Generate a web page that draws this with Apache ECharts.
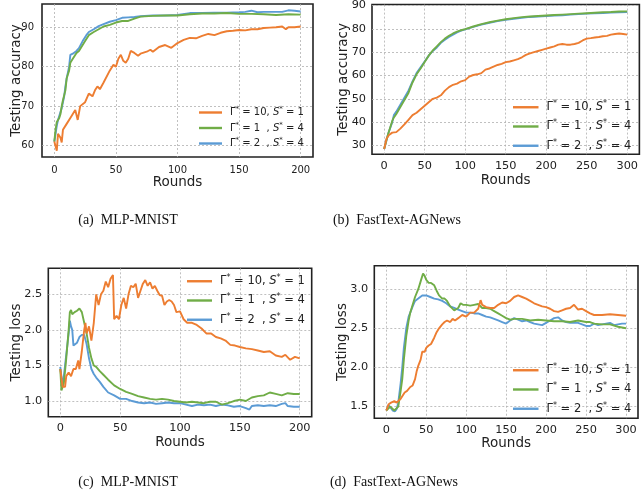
<!DOCTYPE html>
<html><head><meta charset="utf-8">
<script src="https://cdn.jsdelivr.net/npm/echarts@6/dist/echarts.min.js"></script>
<style>html,body{margin:0;padding:0;background:#fff}#c{width:641px;height:500px}</style>
</head><body><div id="c"></div>
<script>
// ---------- data (round, value) ----------
const mnistAccG10S1 = [[0,61],[2,58.7],[3,63],[5,62],[6,60.8],[7,64],[10,65.5],[13,67],[15,68],[17,69],[19,66.5],[21,70],[25,71],[28,73.2],[31,72.5],[33,74],[35,75],[37,74.3],[40,76],[45,79],[48,80.5],[50,80],[52,82],[54,83],[56,81.5],[58,81],[60,82],[62,84],[65,83.5],[68,82.8],[70,83.3],[75,83.8],[78,84.3],[80,83.8],[85,85],[90,85.5],[95,84.8],[100,86],[105,86.8],[110,87.3],[115,87.2],[120,87.8],[125,88.3],[130,88],[135,88.6],[140,89],[145,89.1],[150,89.3],[155,89.2],[160,89.5],[165,89.5],[170,89.8],[175,89.9],[180,90],[185,90.2],[188,89.5],[190,90],[195,90],[200,90.2]];
const mnistAccG1S4 = [[0,61],[1,64],[2,66],[3,65.5],[4,67],[5,68],[6,70],[7,71.5],[8,72],[9,74],[10,77],[11,78],[12,79],[13,81],[15,82],[18,83.5],[20,84],[23,85.5],[25,86.5],[28,88],[32,88.8],[36,89.5],[40,90.2],[45,90.6],[50,91.2],[55,91.6],[60,91.6],[65,92.2],[70,92.7],[80,92.9],[90,93],[100,93],[110,93.3],[120,93.5],[130,93.5],[140,93.6],[150,93.4],[160,93.4],[170,93.3],[180,93.1],[190,93.3],[200,93.2]];
const mnistAccG2S4 = [[0,61],[1,63],[2,65],[3,66.5],[4,67.5],[5,68],[6,69.5],[7,71],[8,72.5],[9,75],[10,77],[11,78.5],[12,80],[13,83],[15,83.3],[18,84],[20,84.7],[23,86.5],[26,88],[28,88.8],[32,89.5],[36,90.3],[40,90.8],[45,91.4],[50,91.8],[55,92.4],[60,92.5],[65,92.6],[70,92.8],[80,93],[90,93],[100,93.1],[110,93.6],[120,93.6],[130,93.7],[140,93.7],[150,93.8],[155,93.9],[160,94.2],[165,93.8],[170,93.9],[180,93.9],[185,93.9],[190,94.3],[195,94.2],[200,94]];

const agAccG10S1 = [[0,28.5],[3,33],[6,34.5],[10,35.5],[15,35.7],[20,37.2],[25,39],[30,41],[35,43],[40,44],[45,45.5],[50,47],[55,48.5],[60,50],[65,50.5],[70,51.5],[75,53.5],[80,55],[85,56],[90,56.5],[95,57.5],[100,58],[105,59.5],[110,60.2],[115,60.5],[120,61],[125,62.5],[130,63],[135,63.8],[140,64.5],[145,65],[150,65.7],[155,66],[160,66.5],[165,67],[170,67.8],[175,68.8],[180,69.5],[185,70],[190,70.5],[195,71],[200,71.5],[205,72],[210,72.5],[215,73.2],[220,73.5],[225,73.2],[230,73.2],[235,73.5],[240,74],[245,75],[250,75.8],[255,76],[260,76.3],[265,76.5],[270,76.8],[275,77],[280,77.5],[285,77.8],[290,78],[295,77.8],[300,77.5]];
const agAccG1S4 = [[0,28.5],[5,35],[10,40.5],[12,42],[15,43.5],[20,46.5],[25,49.5],[30,52.5],[35,57],[40,60.5],[45,63],[50,65.8],[55,68.5],[60,70.7],[65,72.5],[70,74.3],[75,75.8],[80,77],[85,78],[90,78.8],[95,79.4],[100,79.9],[110,81],[120,82],[130,82.8],[140,83.5],[150,84.1],[160,84.6],[170,85],[180,85.3],[190,85.5],[200,85.7],[210,85.9],[220,86.1],[230,86.3],[240,86.5],[250,86.7],[260,86.9],[270,87.1],[280,87.2],[290,87.4],[300,87.5]];
const agAccG2S4 = [[0,28.5],[5,35],[10,40],[12,43],[15,44.5],[20,47.5],[25,50.5],[30,53.5],[35,57.5],[40,61],[45,63.5],[50,66],[55,68.5],[60,70.5],[65,72],[70,74],[75,75.3],[80,76.5],[85,77.5],[90,78.5],[95,79.2],[100,79.8],[110,80.8],[120,81.8],[130,82.6],[140,83.3],[150,83.9],[160,84.3],[170,84.7],[180,85.1],[190,85.3],[200,85.5],[210,85.7],[220,85.8],[230,86.1],[240,86.3],[250,86.5],[260,86.7],[270,86.8],[280,87],[290,87.1],[300,87.2]];

const mnistLossG10S1 = [[0,1.45],[2,1.2],[4,1.2],[5,1.35],[7,1.4],[9,1.35],[11,1.45],[13,1.45],[15,1.57],[16,1.45],[18,1.7],[20,2.0],[21,2.1],[22,1.95],[24,2.05],[26,1.85],[28,2.1],[30,2.5],[32,2.35],[34,2.5],[36,2.55],[38,2.68],[40,2.6],[42,2.72],[44,2.77],[45,2.15],[47,2.2],[49,2.15],[51,2.35],[53,2.45],[55,2.3],[57,2.5],[59,2.62],[61,2.6],[63,2.65],[65,2.45],[67,2.55],[69,2.65],[71,2.7],[73,2.62],[75,2.67],[77,2.58],[79,2.62],[81,2.55],[83,2.49],[85,2.48],[87,2.35],[89,2.4],[91,2.42],[93,2.4],[95,2.35],[97,2.25],[100,2.26],[103,2.15],[106,2.1],[110,2.1],[114,2.07],[118,2.02],[122,1.95],[126,1.95],[130,1.9],[134,1.88],[138,1.85],[142,1.79],[146,1.78],[150,1.76],[155,1.74],[160,1.73],[165,1.71],[170,1.69],[175,1.7],[180,1.64],[185,1.62],[188,1.65],[192,1.58],[196,1.62],[200,1.6]];
const mnistLossG1S4 = [[0,1.45],[1,1.15],[3,1.25],[5,1.6],[7,2.0],[8,2.25],[9,2.28],[10,2.22],[12,2.25],[14,2.27],[16,2.3],[18,2.25],[20,2.1],[22,1.95],[24,1.75],[26,1.6],[28,1.5],[30,1.48],[33,1.42],[36,1.37],[40,1.3],[45,1.22],[50,1.17],[55,1.13],[60,1.1],[65,1.07],[70,1.05],[75,1.03],[80,1.02],[85,1.03],[90,1.02],[95,1.0],[100,0.99],[105,0.98],[110,0.99],[115,0.98],[120,0.97],[125,0.99],[130,0.99],[135,0.95],[140,0.97],[145,1.0],[150,1.02],[155,1.0],[160,1.05],[165,1.07],[170,1.08],[175,1.12],[180,1.1],[185,1.08],[190,1.11],[195,1.1],[200,1.1]];
const mnistLossG2S4 = [[0,1.48],[2,1.2],[4,1.5],[6,1.8],[7,1.95],[8,2.13],[9,2.05],[10,2.0],[11,1.78],[12,1.8],[14,1.82],[16,1.9],[18,1.93],[20,1.93],[22,1.8],[24,1.6],[26,1.45],[28,1.38],[30,1.33],[33,1.27],[36,1.2],[40,1.12],[45,1.08],[50,1.03],[55,1.03],[60,1.0],[65,0.98],[70,0.97],[75,0.98],[80,0.96],[85,0.97],[90,0.98],[95,0.97],[100,0.97],[105,0.95],[110,0.93],[115,0.95],[120,0.94],[125,0.95],[130,0.93],[135,0.95],[140,0.94],[145,0.92],[150,0.93],[155,0.9],[158,0.88],[160,0.93],[165,0.94],[170,0.93],[175,0.94],[180,0.93],[185,0.96],[188,0.97],[190,0.93],[195,0.92],[200,0.92]];

const agLossG10S1 = [[0,1.45],[3,1.53],[6,1.55],[10,1.57],[13,1.55],[15,1.57],[18,1.6],[20,1.62],[23,1.68],[26,1.7],[30,1.75],[33,1.77],[36,1.85],[38,1.95],[40,2.02],[43,2.1],[45,2.2],[48,2.2],[50,2.25],[53,2.28],[56,2.3],[58,2.32],[60,2.38],[63,2.45],[66,2.5],[70,2.55],[73,2.58],[76,2.6],[80,2.58],[83,2.62],[86,2.6],[90,2.63],[95,2.67],[100,2.65],[105,2.7],[110,2.7],[115,2.75],[118,2.86],[120,2.8],[125,2.77],[130,2.76],[135,2.76],[140,2.8],[145,2.83],[150,2.82],[155,2.85],[160,2.9],[165,2.92],[170,2.9],[175,2.88],[180,2.85],[185,2.82],[190,2.8],[195,2.78],[200,2.77],[205,2.75],[210,2.72],[215,2.71],[220,2.73],[225,2.75],[230,2.76],[235,2.8],[240,2.74],[245,2.75],[250,2.72],[255,2.69],[260,2.67],[270,2.67],[280,2.68],[290,2.67],[300,2.66]];
const agLossG1S4 = [[0,1.45],[5,1.5],[10,1.45],[15,1.5],[18,1.7],[20,1.85],[22,2.1],[25,2.4],[28,2.6],[30,2.7],[33,2.8],[36,2.9],[40,3.0],[43,3.1],[46,3.2],[48,3.17],[50,3.12],[53,3.08],[56,3.08],[60,3.05],[63,2.98],[66,2.92],[70,2.88],[73,2.88],[76,2.85],[80,2.78],[85,2.73],[90,2.76],[93,2.82],[96,2.8],[100,2.8],[105,2.79],[110,2.8],[115,2.81],[120,2.76],[125,2.76],[130,2.75],[135,2.72],[140,2.69],[145,2.66],[150,2.63],[155,2.61],[160,2.62],[170,2.62],[180,2.6],[190,2.61],[200,2.6],[210,2.59],[220,2.59],[230,2.58],[240,2.6],[245,2.59],[250,2.58],[255,2.58],[260,2.56],[270,2.55],[280,2.55],[290,2.52],[300,2.5]];
const agLossG2S4 = [[0,1.45],[3,1.52],[5,1.5],[8,1.45],[11,1.44],[13,1.47],[15,1.55],[18,1.8],[20,2.0],[22,2.25],[25,2.5],[28,2.65],[30,2.7],[33,2.78],[36,2.85],[40,2.88],[45,2.92],[50,2.92],[55,2.9],[60,2.88],[65,2.87],[70,2.85],[75,2.82],[80,2.78],[85,2.76],[90,2.74],[95,2.72],[100,2.7],[105,2.7],[110,2.69],[115,2.69],[120,2.67],[125,2.65],[130,2.64],[135,2.62],[140,2.6],[145,2.58],[150,2.56],[155,2.6],[160,2.63],[165,2.61],[170,2.59],[175,2.6],[180,2.58],[185,2.56],[190,2.55],[195,2.54],[200,2.57],[205,2.6],[210,2.63],[215,2.64],[220,2.6],[225,2.58],[230,2.57],[240,2.57],[250,2.53],[255,2.53],[260,2.56],[265,2.54],[270,2.55],[280,2.57],[285,2.54],[290,2.55],[295,2.56],[300,2.56]];

const xTicks200 = [0,50,100,150,200];
const xTicks300 = [0,50,100,150,200,250,300];
const yTicksMnistAcc = [60,70,80,90];
const yTicksAgAcc = [30,40,50,60,70,80,90];
const yTicksMnistLoss = [1.0,1.5,2.0,2.5];
const yTicksAgLoss = [1.5,2.0,2.5,3.0];
const legendLabels = ['{g|Γ}{sup|*}{t| = 10, }{s|S}{sup|*}{t| = 1}','{g|Γ}{sup|*}{t| = 1  , }{s|S}{sup|*}{t| = 4}','{g|Γ}{sup|*}{t| = 2  , }{s|S}{sup|*}{t| = 4}'];
const captions = ['(a)  MLP-MNIST','(b)  FastText-AGNews','(c)  MLP-MNIST','(d)  FastText-AGNews'];
const colors = ['#ED7D31','#70AD47','#5B9BD5'];

// ---------- layout ----------
const FONT = 'DejaVu Sans';
const panels = [
  {grid:{left:42,top:4,width:271,height:153}, xr:[-10,210], yr:[57.1,95.9], xt:xTicks200, yt:yTicksMnistAcc, yname:'Testing accuracy', fs:10, lm:8, xnGap:15, ynGap:19, dec:0,
   data:[mnistAccG10S1,mnistAccG1S4,mnistAccG2S4], leg:{left:199,top:106,w:23,gap:4,fs:10}},
  {grid:{left:372,top:4,width:273.5,height:150.3}, xr:[-15,315], yr:[26.2,90.4], xt:xTicks300, yt:yTicksAgAcc, yname:'Testing accuracy', fs:11.3, lm:6, xnGap:19, ynGap:22, dec:0,
   data:[agAccG10S1,agAccG1S4,agAccG2S4], leg:{left:513,top:100,w:25.5,gap:6,fs:11.5}},
  {grid:{left:48.3,top:268.3,width:263.4,height:148.4}, xr:[-10,210], yr:[0.78,2.866], xt:xTicks200, yt:yTicksMnistLoss, yname:'Testing loss', fs:11.3, lm:6, xnGap:19, ynGap:25, dec:1,
   data:[mnistLossG10S1,mnistLossG1S4,mnistLossG2S4], leg:{left:187,top:274,w:25,gap:6,fs:11.5}},
  {grid:{left:374.3,top:265.7,width:263.7,height:152.6}, xr:[-15,315], yr:[1.35,3.30], xt:xTicks300, yt:yTicksAgLoss, yname:'Testing loss', fs:11.3, lm:6, xnGap:18, ynGap:25, dec:1,
   data:[agLossG10S1,agLossG1S4,agLossG2S4], leg:{left:513,top:363,w:25.5,gap:6,fs:11.5}}
];

const option = {animation:false, backgroundColor:'#fff', grid:[], xAxis:[], yAxis:[], series:[], legend:[], title:[]};
const splitLine = {show:true, lineStyle:{color:'#b0b0b0', width:0.8, type:[2,2]}};
panels.forEach((p,i)=>{
  option.grid.push(Object.assign({show:true, borderColor:'#222', borderWidth:1.6, backgroundColor:'transparent', containLabel:false}, p.grid));
  option.xAxis.push({gridIndex:i, type:'value', min:p.xr[0], max:p.xr[1],
    axisLine:{show:false}, axisTick:{show:false, customValues:p.xt},
    axisLabel:{customValues:p.xt, color:'#222', fontFamily:FONT, fontSize:p.fs, margin:p.lm},
    splitLine:splitLine, name:'Rounds', nameLocation:'middle', nameGap:p.xnGap,
    nameTextStyle:{fontFamily:FONT, fontSize:13.5, color:'#222'}});
  option.yAxis.push({gridIndex:i, type:'value', min:p.yr[0], max:p.yr[1],
    axisLine:{show:false}, axisTick:{show:false, customValues:p.yt},
    axisLabel:{customValues:p.yt, color:'#222', fontFamily:FONT, fontSize:p.fs, margin:p.lm, formatter:v=>Number(v).toFixed(p.dec)},
    splitLine:splitLine, name:p.yname, nameLocation:'middle', nameGap:p.ynGap, nameRotate:90, nameMoveOverlap:false,
    nameTextStyle:{fontFamily:FONT, fontSize:13.5, color:'#222'}});
  const names = [];
  p.data.forEach((d,k)=>{
    const nm = 'p'+i+'s'+k; names.push(nm);
    option.series.push({type:'line', name:nm, xAxisIndex:i, yAxisIndex:i, data:d, showSymbol:false, symbol:'none',
      lineStyle:{color:colors[k], width:1.9}, itemStyle:{color:colors[k]}, z:3-k+2});
  });
  const fs = p.leg.fs;
  option.legend.push({show:true, orient:'vertical', left:p.leg.left, top:p.leg.top, itemWidth:p.leg.w, itemHeight:2.4, itemGap:p.leg.gap,
    icon:'rect', data:names, selectedMode:false, padding:0,
    formatter:(nm)=>legendLabels[+nm.slice(3)],
    textStyle:{color:'#222', padding:[0,0,0,3], rich:{
      g:{fontFamily:FONT, fontSize:fs, lineHeight:fs+3, color:'#222'},
      t:{fontFamily:FONT, fontSize:fs, lineHeight:fs+3, color:'#222'},
      s:{fontFamily:FONT, fontSize:fs, fontStyle:'italic', lineHeight:fs+3, color:'#222'},
      sup:{fontFamily:FONT, fontSize:fs*0.7, verticalAlign:'top', lineHeight:fs*0.7, color:'#222'}
    }}});
});
const capPos = [[128,213],[397,213],[128,475],[394,475]];
captions.forEach((c,i)=>{
  option.title.push({text:c, left:capPos[i][0], top:capPos[i][1], textAlign:'center', padding:0,
    textStyle:{fontFamily:'Liberation Serif', fontSize:14, fontWeight:'normal', color:'#111'}});
});
const chart = echarts.init(document.getElementById('c'), null, {renderer:'canvas'});
chart.setOption(option);
</script></body></html>
